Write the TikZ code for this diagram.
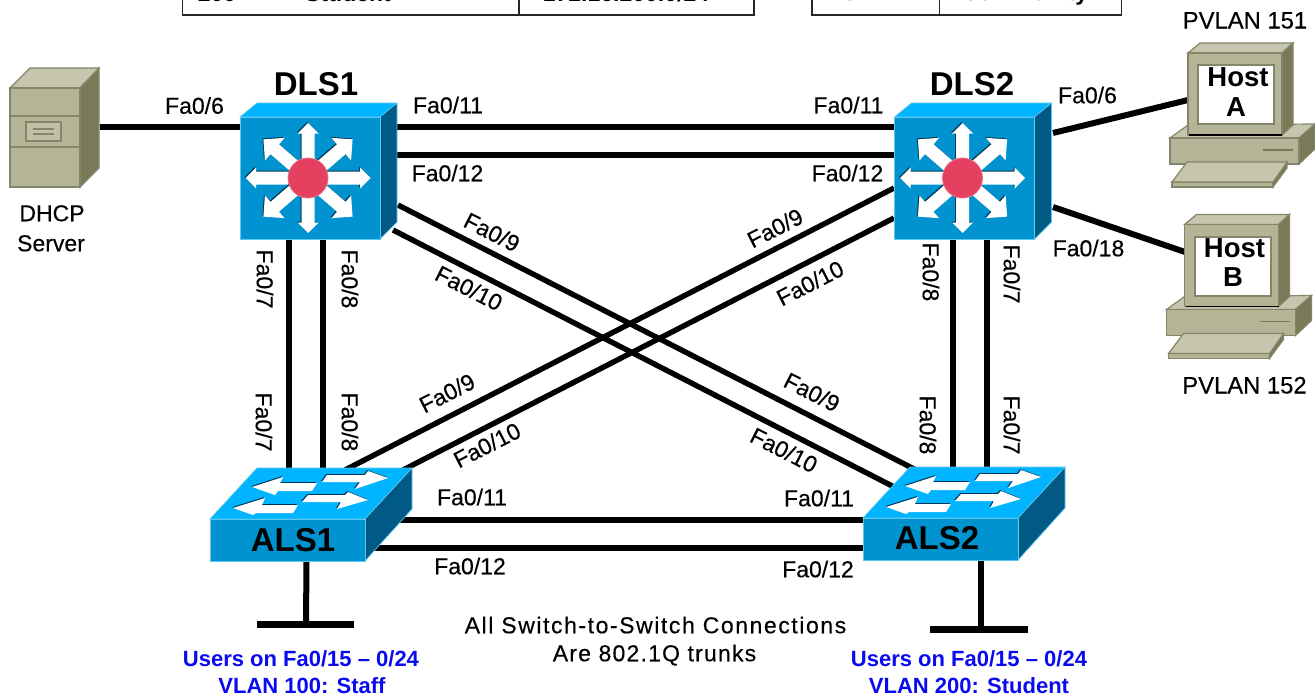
\documentclass[tikz,border=0pt]{standalone}
\usepackage{fontspec}
\setmainfont{Liberation Sans}
\newfontfamily\portfont[FakeBold=0.3]{Liberation Sans}
\newfontfamily\noteAfont[LetterSpace=6.8,FakeBold=0.3]{Liberation Sans}
\newfontfamily\noteBfont[LetterSpace=5.2,FakeBold=0.3]{Liberation Sans}
\definecolor{swfront}{HTML}{0093D0}
\definecolor{swtop}{HTML}{00B4FF}
\definecolor{swside}{HTML}{005A85}
\definecolor{swedge}{HTML}{5CC8F0}
\definecolor{swshadow}{HTML}{003A58}
\definecolor{mlsred}{HTML}{E5405F}
\definecolor{begefront}{HTML}{B4B497}
\definecolor{begetop}{HTML}{C6C6AE}
\definecolor{begeside}{HTML}{7A7A58}
\definecolor{begeedge}{HTML}{85856A}
\definecolor{vlanblue}{HTML}{0A0AF0}
\tikzset{
  link/.style={draw=black,line width=6pt},
  thinlink/.style={draw=black,line width=5.4pt},
  bar/.style={draw=black,line width=7pt},
  anchorbox/.style={inner sep=0pt,outer sep=0pt},
  portlabel/.style={inner sep=0pt,text height=16.5pt,text depth=0pt,font=\fontsize{23}{23}\selectfont\portfont},
  pvlabel/.style={inner sep=0pt,text height=17pt,text depth=0pt,font=\fontsize{23.8}{24}\selectfont\portfont},
  devlabel/.style={inner sep=0pt,text height=23.5pt,text depth=0pt,font=\fontsize{33}{33}\selectfont\bfseries},
  hostlabel/.style={inner sep=0pt,text height=19.5pt,text depth=0pt,font=\fontsize{27.5}{27.5}\selectfont\bfseries},
  bluelabel/.style={inner sep=0pt,text height=16pt,text depth=0pt,text=vlanblue,font=\fontsize{22}{22}\selectfont\bfseries},
  notelabel/.style={inner sep=0pt,text height=16.5pt,text depth=0pt,font=\fontsize{23}{23}\selectfont},
  celltext/.style={inner sep=0pt,anchor=base,font=\fontsize{23}{23}\selectfont\bfseries},
  tablerule/.style={draw=black!85,line width=1.6pt},
  swfrontface/.style={fill=swfront,draw=swedge,line width=1pt},
  swtopface/.style={fill=swtop,draw=swedge,line width=.7pt},
  swsideface/.style={fill=swside,draw=swedge,line width=.7pt},
  frontface/.style={fill=begefront,draw=begeedge,line width=1.2pt},
  topface/.style={fill=begetop,draw=begeedge,line width=1.2pt},
  sideface/.style={fill=begeside,draw=begeedge,line width=1.2pt},
}
\newcommand{\mlsarrow}[3]{% angle, length, half-head
  \begin{scope}[shift={(307,177)},rotate=#1]
    \fill[swshadow] (0,-6.5) -- (#2-#3,-6.5) -- (#2-#3,-#3) -- (#2,0) -- (#2-#3,#3) -- (#2-#3,6.5) -- (0,6.5) -- cycle;
  \end{scope}
  \begin{scope}[shift={(308,178)},rotate=#1]
    \fill[white] (0,-6.5) -- (#2-#3,-6.5) -- (#2-#3,-#3) -- (#2,0) -- (#2-#3,#3) -- (#2-#3,6.5) -- (0,6.5) -- cycle;
  \end{scope}
}
\newcommand{\alsarrow}[1]{%
  \fill[swshadow,shift={(-.9,-.9)}] #1;
  \fill[white] #1;
}
\newcommand{\mlsicon}[1]{%
  \begin{scope}[shift={(#1,0)}]
    \filldraw[swtopface] (240,117) -- (257,103) -- (397,103) -- (380,117) -- cycle;
    \filldraw[swsideface] (380,117) -- (397,103) -- (397,222) -- (380,239) -- cycle;
    \filldraw[swfrontface] (240,117) rectangle (380,239);
    \foreach \a in {0,180} {\mlsarrow{\a}{62.5}{10.5}}
    \foreach \a in {90,270} {\mlsarrow{\a}{55}{10.5}}
    \foreach \a in {40.9,139.1,220.9,319.1} {\mlsarrow{\a}{59}{15}}
    \filldraw[fill=mlsred,draw=mlsred!75!white,line width=.8pt] (308,178) circle (20);
  \end{scope}
}
\newcommand{\alsicon}[2]{%
  \begin{scope}[shift={(#1,#2)}]
    \filldraw[swtopface] (210,519) -- (257,468) -- (412,468) -- (365,519) -- cycle;
    \filldraw[swsideface] (365,519) -- (412,468) -- (412,509) -- (365,561) -- cycle;
    \filldraw[swfrontface] (210,519) rectangle (365,561);
    \alsarrow{(252,487) -- (283,477) -- (280,483) -- (317,483) -- (312,491) -- (278,491) -- (275,495) -- cycle}
    \alsarrow{(388,478) -- (368,471) -- (365,475) -- (327,475) -- (322,482) -- (360,482) -- (355,489) -- cycle}
    \alsarrow{(233,508) -- (265,498) -- (262,505) -- (298,505) -- (293,513) -- (256,513) -- (253,515) -- cycle}
    \alsarrow{(368,500) -- (348,492) -- (345,495) -- (308,495) -- (302,502) -- (341,502) -- (337,509) -- cycle}
  \end{scope}
}
\newcommand{\hosticon}[2]{%
  \begin{scope}[shift={(#1,#2)}]
    \filldraw[topface] (1170,138) -- (1188,125) -- (1315,124) -- (1299,138) -- cycle;
    \filldraw[sideface] (1299,138) -- (1315,124) -- (1315,149) -- (1299,164) -- cycle;
    \filldraw[frontface] (1170,138) rectangle (1299,164);
    \draw[begeside,line width=1.2pt] (1263,150) -- (1293,150);
    \filldraw[topface] (1188,53) -- (1200,43) -- (1293,43) -- (1282,53) -- cycle;
    \filldraw[sideface] (1282,53) -- (1293,43) -- (1293,125) -- (1282,135) -- cycle;
    \filldraw[frontface] (1188,53) rectangle (1282,135);
    \draw[black,line width=1.4pt] (1189,135) -- (1282,135);
    \filldraw[fill=white,draw=begeedge,line width=2pt] (1198,65) rectangle (1274,124);
    \filldraw[frontface] (1172,182) rectangle (1273,187);
    \filldraw[sideface] (1273,182) -- (1287,162) -- (1287,168) -- (1273,187) -- cycle;
    \filldraw[topface] (1187,162) -- (1287,162) -- (1273,182) -- (1172,182) -- cycle;
  \end{scope}
}
\begin{document}
\begin{tikzpicture}[x=1pt,y=-1pt]
\useasboundingbox (0,0) rectangle (1315,696);
\fill[white] (0,0) rectangle (1315,696);

% clipped tables at the top edge
\begin{scope}
  \clip (0,0) rectangle (1315,15);
  \node[celltext] (cellA) at (217,1.5) {200};
  \node[celltext] (cellB) at (348,1.5) {Student};
  \node[celltext] (cellC) at (626,1.5) {172.16.200.0/24};
  \node[celltext] (cellD) at (850,1) {152};
  \node[celltext] (cellE) at (1025,1) {Community};
\end{scope}
\draw[tablerule] (182.5,-2) -- (182.5,15) -- (754,15) -- (754,-2);
\draw[tablerule] (519,-2) -- (519,15);
\draw[tablerule] (812,-2) -- (812,15) -- (1121.5,15) -- (1121.5,-2);
\draw[tablerule] (939.5,-2) -- (939.5,15);

% anchor nodes of the devices (front faces)
\node[anchorbox,minimum width=70,minimum height=99] (Srv) at (45,137.5) {};
\node[anchorbox,minimum width=140,minimum height=122] (DLS1) at (310,178) {};
\node[anchorbox,minimum width=141,minimum height=122] (DLS2) at (964.5,178) {};
\node[anchorbox,minimum width=155,minimum height=42] (ALS1) at (287.5,540) {};
\node[anchorbox,minimum width=155,minimum height=40] (ALS2) at (940.5,538) {};
\node[anchorbox,minimum width=94,minimum height=82] (HostA) at (1235,94) {};
\node[anchorbox,minimum width=94,minimum height=82] (HostB) at (1231.5,265.5) {};
\coordinate (lanA) at (306,624);
\coordinate (lanAl) at (257,624);
\coordinate (lanAr) at (354,624);
\coordinate (lanB) at (981,629);
\coordinate (lanBl) at (930,629);
\coordinate (lanBr) at (1028,629);

% connectors
\draw[link] ([shift={(55,-10.5)}]Srv.center) -- ([shift={(-70,-51)}]DLS1.center);
\draw[link] ([shift={(87,-51)}]DLS1.center) -- ([shift={(-70.5,-51)}]DLS2.center);
\draw[link] ([shift={(87,-23)}]DLS1.center) -- ([shift={(-70.5,-23)}]DLS2.center);
\draw[link] ([shift={(-21,61)}]DLS1.center) -- ([shift={(1.5,-70)}]ALS1.center);
\draw[link] ([shift={(13,61)}]DLS1.center) -- ([shift={(35.5,-70)}]ALS1.center);
\draw[link] ([shift={(-11.5,61)}]DLS2.center) -- ([shift={(12.5,-68)}]ALS2.center);
\draw[link] ([shift={(22.5,61)}]DLS2.center) -- ([shift={(46.5,-68)}]ALS2.center);
\draw[thinlink] ([shift={(88,27)}]DLS1.center) -- ([shift={(-22.5,-67)}]ALS2.center);
\draw[thinlink] ([shift={(83,52)}]DLS1.center) -- ([shift={(-40.5,-48)}]ALS2.center);
\draw[thinlink] ([shift={(-70.5,10)}]DLS2.center) -- ([shift={(57.5,-70)}]ALS1.center);
\draw[thinlink] ([shift={(-70.5,40)}]DLS2.center) -- ([shift={(115.5,-70)}]ALS1.center);
\draw[link] ([shift={(107.5,-20)}]ALS1.center) -- ([shift={(-75.5,-18)}]ALS2.center);
\draw[link] ([shift={(87.5,7.5)}]ALS1.center) -- ([shift={(-75.5,9.5)}]ALS2.center);
\draw[link] ([shift={(88.5,-45)}]DLS2.center) -- ([shift={(-47,6)}]HostA.center);
\draw[link] ([shift={(88.5,29)}]DLS2.center) -- ([shift={(-46.5,-13.5)}]HostB.center);
\draw[link] ([shift={(19,21)}]ALS1.center) -- (lanA);
\draw[bar] (lanAl) -- (lanAr);
\draw[link] ([shift={(40.5,20)}]ALS2.center) -- (lanB);
\draw[bar] (lanBl) -- (lanBr);

% server
\filldraw[topface] (10,88) -- (30,68) -- (99,68) -- (80,88) -- cycle;
\filldraw[sideface] (80,88) -- (99,68) -- (99,168) -- (80,187) -- cycle;
\filldraw[frontface] (10,88) rectangle (80,187);
\draw[begeedge,line width=1.4pt] (10,116) -- (80,116) (10,147) -- (80,147);
\filldraw[fill=begetop!70!begefront,draw=begeedge,line width=1.4pt] (26,122) rectangle (61,141);
\draw[begeedge,line width=1.2pt] (33,129) -- (54,129) (33,134) -- (54,134);

% switches and hosts
\mlsicon{0}
\mlsicon{654.5}
\alsicon{0}{0}
\alsicon{653}{-1}
\hosticon{0}{0}
\hosticon{-3.5}{171.5}

% device labels
\node[devlabel] (tDLS1) at (316,84) {DLS1};
\node[devlabel] (tDLS2) at (972,84) {DLS2};
\node[devlabel] (tALS1) at (293,540) {ALS1};
\node[devlabel] (tALS2) at (937,538) {ALS2};
\node[hostlabel] (tHA1) at (1238,77) {Host};
\node[hostlabel] (tHA2) at (1236,107) {A};
\node[hostlabel] (tHB1) at (1234.5,248) {Host};
\node[hostlabel] (tHB2) at (1233,277) {B};
\node[pvlabel] (tP1) at (1245,20) {PVLAN 151};
\node[pvlabel] (tP2) at (1244.5,385) {PVLAN 152};
\node[portlabel] (tS1) at (52,213) {DHCP};
\node[portlabel] (tS2) at (51,243) {Server};

% port labels
\node[portlabel] (p1) at (194.5,105.5) {Fa0/6};
\node[portlabel] (p2) at (448,105) {Fa0/11};
\node[portlabel] (p3) at (447.5,173) {Fa0/12};
\node[portlabel] (p4) at (848.5,105) {Fa0/11};
\node[portlabel] (p5) at (847.5,173) {Fa0/12};
\node[portlabel] (p6) at (1087.5,95) {Fa0/6};
\node[portlabel] (p7) at (1088.5,248) {Fa0/18};
\node[portlabel,rotate=-90] (p8) at (265,279) {Fa0/7};
\node[portlabel,rotate=-90] (p9) at (350,279) {Fa0/8};
\node[portlabel,rotate=-90] (p10) at (264,422) {Fa0/7};
\node[portlabel,rotate=-90] (p11) at (350,422) {Fa0/8};
\node[portlabel,rotate=-90] (p12) at (931,272) {Fa0/8};
\node[portlabel,rotate=-90] (p13) at (1012,274) {Fa0/7};
\node[portlabel,rotate=-90] (p14) at (928,425) {Fa0/8};
\node[portlabel,rotate=-90] (p15) at (1012,425) {Fa0/7};
\node[portlabel] (p16) at (472,497) {Fa0/11};
\node[portlabel] (p17) at (470,566) {Fa0/12};
\node[portlabel] (p18) at (819,498) {Fa0/11};
\node[portlabel] (p19) at (818,569) {Fa0/12};
\node[portlabel,rotate=-27] (p20) at (492,232) {Fa0/9};
\node[portlabel,rotate=-27] (p21) at (469,288) {Fa0/10};
\node[portlabel,rotate=27] (p22) at (775,228) {Fa0/9};
\node[portlabel,rotate=27] (p23) at (810,283) {Fa0/10};
\node[portlabel,rotate=27] (p24) at (447,393) {Fa0/9};
\node[portlabel,rotate=27] (p25) at (487,445) {Fa0/10};
\node[portlabel,rotate=-27] (p26) at (812,392) {Fa0/9};
\node[portlabel,rotate=-27] (p27) at (784,450) {Fa0/10};

% notes
\node[notelabel] (n1) at (655.5,625) {\noteAfont All Switch-to-Switch Connections};
\node[notelabel] (n2) at (654.5,653) {\noteBfont Are 802.1Q trunks};
\node[bluelabel] (b1) at (301,658) {Users on Fa0/15 – 0/24};
\node[bluelabel] (b2) at (302,685) {VLAN 100: Staff};
\node[bluelabel] (b3) at (969,658) {Users on Fa0/15 – 0/24};
\node[bluelabel] (b4) at (969,685) {VLAN 200: Student};
\end{tikzpicture}
\end{document}
